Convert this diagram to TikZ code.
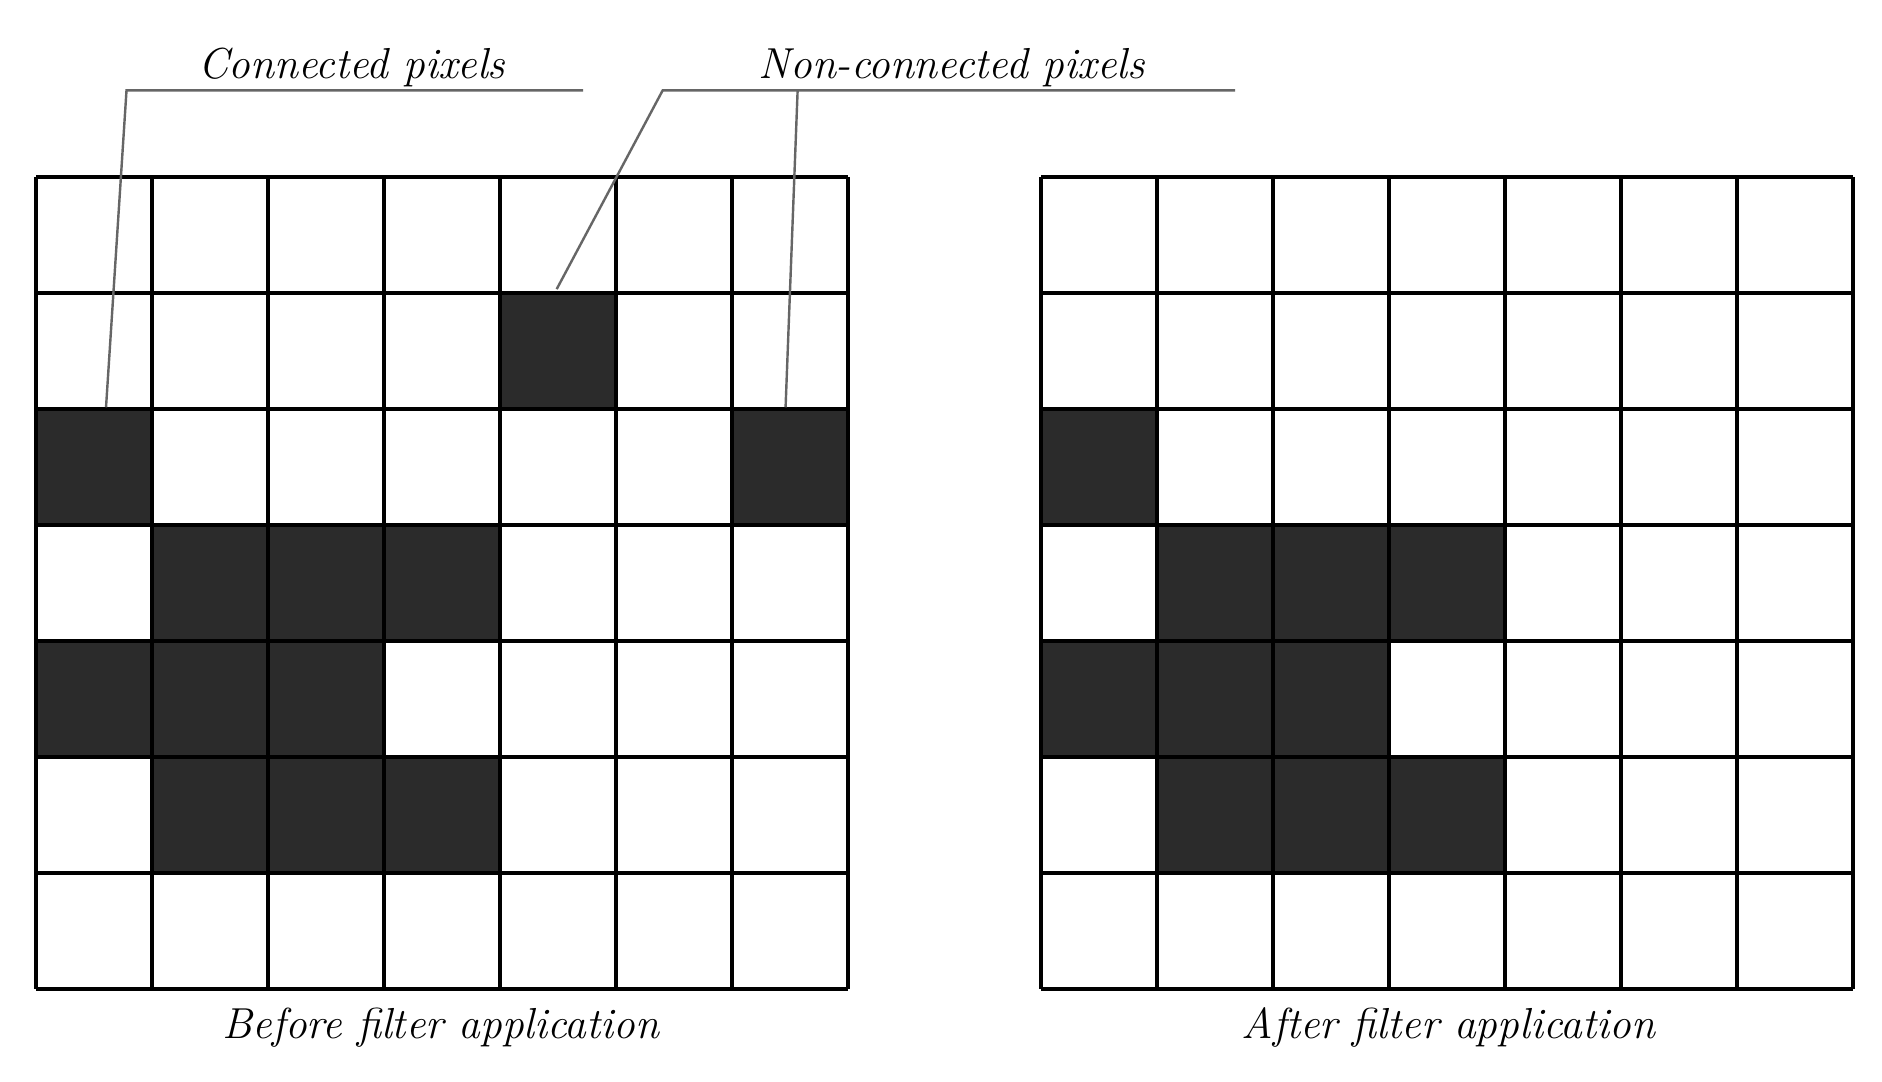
\documentclass[tikz,border=0pt]{standalone}
\begin{document}
\begin{tikzpicture}[x=1pt,y=-1pt,
  grid/.style={line width=3pt},
  dark/.style={fill=black!83},
  lbl/.style={font=\fontsize{36}{40}\selectfont\itshape, inner sep=0pt, anchor=base},
  lead/.style={draw=black!60, line width=2pt}]
\useasboundingbox (0,0) rectangle (1562,898);
\def\cs{96.29}
% left grid
\foreach \r/\c in {1/4,2/0,2/6,3/1,3/2,3/3,4/0,4/1,4/2,5/1,5/2,5/3}
  \fill[dark] (30+\c*\cs,147+\r*\cs) rectangle ++(\cs,\cs);
\foreach \r/\c in {2/0,3/1,3/2,3/3,4/0,4/1,4/2,5/1,5/2,5/3}
  \fill[dark] (864+\c*\cs,147+\r*\cs) rectangle ++(\cs,\cs);
\foreach \ox in {30,864}{
  \foreach \i in {0,...,7}{
    \draw[grid] (\ox+\i*\cs,147) -- (\ox+\i*\cs,821);
    \draw[grid] (\ox,147+\i*\cs) -- (\ox+674,147+\i*\cs);
  }
}
\node[lbl] (cp) at (292,65) {Connected pixels};
\node[lbl] (np) at (790,65) {Non-connected pixels};
\node[lbl] (bf) at (366,862) {Before filter application};
\node[lbl] (af) at (1202,862) {After filter application};
\coordinate (u1a) at (105,75); \coordinate (u1b) at (484,75);
\coordinate (u2a) at (550,75); \coordinate (u2b) at (1025,75);
\coordinate (u2m) at (662,75);
\coordinate (t1) at (88,338); \coordinate (t2) at (462,240); \coordinate (t3) at (652,338);
\draw[lead] (u1b) -- (u1a) -- (t1);
\draw[lead] (u2b) -- (u2a) -- (t2);
\draw[lead] (u2m) -- (t3);
\end{tikzpicture}
\end{document}
